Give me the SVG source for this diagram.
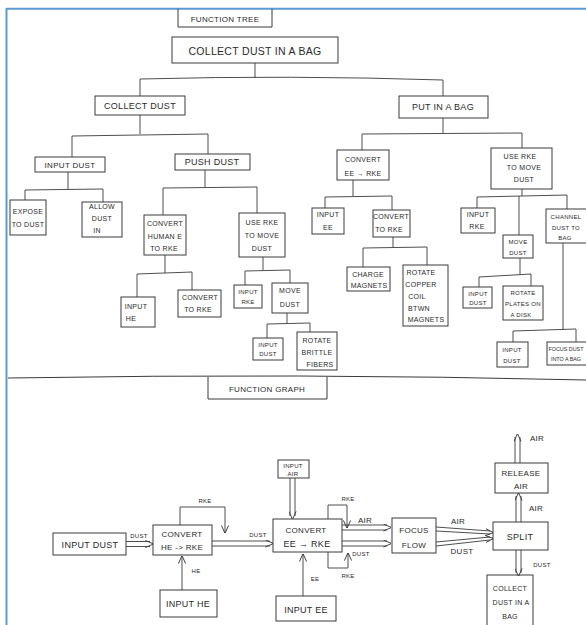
<svg xmlns="http://www.w3.org/2000/svg" width="586" height="625" viewBox="0 0 586 625">
<defs>
<style>
.b{fill:none;stroke:#3a3a3a;stroke-width:1}
.c{fill:none;stroke:#3a3a3a;stroke-width:0.9}
.g{fill:none;stroke:none}
text{font-family:"Liberation Sans","DejaVu Sans",sans-serif;fill:#2a2a2a;text-anchor:middle;font-size:7px;letter-spacing:0.3px}
.t9{font-size:9px}
.t10{font-size:10.5px}
.t8{font-size:8px}
.t6{font-size:6px}
.t5{font-size:5.4px;letter-spacing:0}
</style>
<marker id="ah" viewBox="0 0 10 10" refX="9.5" refY="5" markerWidth="8" markerHeight="8" markerUnits="userSpaceOnUse" orient="auto">
<path d="M0,0.5 L10,5 L0,9.5" fill="none" stroke="#3a3a3a" stroke-width="1.2"/>
</marker>
</defs>
<rect width="586" height="625" fill="#ffffff"/>
<path d="M6.5,8.8 H586 M6.5,8 V625" fill="none" stroke="#5b9bd5" stroke-width="2"/>

<g id="title-tree"><path class="b" d="M178,9 V27 H272 V9"/><text x="225" y="22" class="t8">FUNCTION TREE</text></g>
<g id="n-root"><rect class="b" x="172" y="37" width="166" height="26"/><text x="255" y="55" class="t10">COLLECT DUST IN A BAG</text></g>
<g id="n-collect"><rect class="b" x="95" y="96" width="90" height="19"/><text x="140" y="109" class="t9">COLLECT DUST</text></g>
<g id="n-put"><rect class="b" x="399" y="96" width="89" height="22"/><text x="443" y="110" class="t9">PUT IN A BAG</text></g>
<g id="n-inputdust"><rect class="b" x="35" y="157" width="70" height="15"/><text x="70" y="168" class="t8">INPUT DUST</text></g>
<g id="n-pushdust"><rect class="b" x="175" y="154" width="75" height="16"/><text x="212" y="165" class="t9">PUSH DUST</text></g>
<g id="n-expose"><rect class="b" x="10" y="200" width="36" height="35"/><text x="28" y="214">EXPOSE</text><text x="28" y="227">TO DUST</text></g>
<g id="n-allow"><rect class="b" x="82" y="202" width="40" height="35"/><text x="102" y="209">ALLOW</text><text x="102" y="221">DUST</text><text x="97" y="233">IN</text></g>
<g id="n-convhuman"><rect class="b" x="144" y="215" width="42" height="40"/><text x="165" y="226">CONVERT</text><text x="165" y="239">HUMAN E</text><text x="164" y="251">TO RKE</text></g>
<g id="n-userke1"><rect class="b" x="239" y="213" width="46" height="44"/><text x="262" y="225">USE RKE</text><text x="262" y="238">TO MOVE</text><text x="262" y="251">DUST</text></g>
<g id="n-inputhe"><rect class="b" x="121" y="297" width="34" height="30"/><text x="136" y="309">INPUT</text><text x="131" y="321">HE</text></g>
<g id="n-convrke1"><rect class="b" x="178" y="290" width="43" height="27"/><text x="200" y="300">CONVERT</text><text x="198" y="312">TO RKE</text></g>
<g id="n-inputrke1"><rect class="b" x="234" y="285" width="28" height="23"/><text x="248" y="294" class="t6">INPUT</text><text x="248" y="304" class="t6">RKE</text></g>
<g id="n-movedust1"><rect class="b" x="272" y="283" width="36" height="30"/><text x="290" y="293">MOVE</text><text x="290" y="307">DUST</text></g>
<g id="n-inputdust2"><rect class="b" x="253" y="338" width="30" height="22"/><text x="268" y="347" class="t6">INPUT</text><text x="268" y="356" class="t6">DUST</text></g>
<g id="n-brittle"><rect class="b" x="297" y="332" width="40" height="38"/><text x="317" y="343">ROTATE</text><text x="317" y="355">BRITTLE</text><text x="320" y="367">FIBERS</text></g>
<g id="n-conveerke"><rect class="b" x="337" y="150" width="52" height="30"/><text x="363" y="162">CONVERT</text><text x="363" y="176">EE → RKE</text></g>
<g id="n-userke2"><rect class="b" x="491" y="148" width="61" height="41"/><text x="520" y="159">USE RKE</text><text x="524" y="170">TO MOVE</text><text x="524" y="182">DUST</text></g>
<g id="n-inputee"><rect class="b" x="312" y="208" width="32" height="26"/><text x="328" y="217">INPUT</text><text x="328" y="230">EE</text></g>
<g id="n-convrke2"><rect class="b" x="373" y="210" width="37" height="27"/><text x="391" y="219">CONVERT</text><text x="389" y="232">TO RKE</text></g>
<g id="n-charge"><rect class="b" x="347" y="267" width="43" height="24"/><text x="368" y="277">CHARGE</text><text x="369" y="288">MAGNETS</text></g>
<g id="n-copper"><rect class="b" x="403" y="265" width="45" height="61"/><text x="421" y="275">ROTATE</text><text x="421" y="287">COPPER</text><text x="417" y="299">COIL</text><text x="419" y="311">BTWN</text><text x="426" y="322">MAGNETS</text></g>
<g id="n-inputrke2"><rect class="b" x="461" y="208" width="34" height="25"/><text x="478" y="217">INPUT</text><text x="477" y="229">RKE</text></g>
<g id="n-movedust2"><rect class="b" x="503" y="235" width="30" height="23"/><text x="518" y="244" class="t6">MOVE</text><text x="518" y="255" class="t6">DUST</text></g>
<g id="n-channel"><rect class="b" x="546" y="209" width="46" height="34"/><text x="566" y="219" class="t6">CHANNEL</text><text x="566" y="230" class="t6">DUST TO</text><text x="565" y="240" class="t6">BAG</text></g>
<g id="n-inputdust3"><rect class="b" x="463" y="287" width="29" height="21"/><text x="478" y="296" class="t6">INPUT</text><text x="478" y="305" class="t6">DUST</text></g>
<g id="n-plates"><rect class="b" x="503" y="286" width="40" height="34"/><text x="523" y="295" class="t6">ROTATE</text><text x="523" y="306" class="t6">PLATES ON</text><text x="521" y="317" class="t6">A DISK</text></g>
<g id="n-inputdust4"><rect class="b" x="497" y="342" width="31" height="25"/><text x="512" y="352" class="t6">INPUT</text><text x="512" y="363" class="t6">DUST</text></g>
<g id="n-focusdust"><rect class="b" x="547" y="342" width="50" height="23"/><text x="566" y="351" class="t5">FOCUS DUST</text><text x="566" y="361" class="t5">INTO A BAG</text></g>

<g id="tree-connectors">
<path class="c" d="M255,63 V78 M140,79 Q290,75 443,80 M140,79 V96 M443,80 V96"/>
<path class="c" d="M140,115 V134 M72,136 L208,134 M72,136 V157 M208,134 V154"/>
<path class="c" d="M68,172 V189 M25,190 L103,189 M25,190 V200 M103,189 V202"/>
<path class="c" d="M205,170 V187 M163,188 L257,187 M163,188 V215 M257,187 V213"/>
<path class="c" d="M165,255 V273 M137,274 L192,272 M137,274 V297 M192,272 V290"/>
<path class="c" d="M263,257 V270 M245,271 L290,270 M245,271 V285 M290,270 V283"/>
<path class="c" d="M287,313 V323 M267,324 L310,323 M267,324 V338 M310,323 V332"/>
<path class="c" d="M443,118 V133 M362,134 L522,133 M362,134 V150 M522,133 V148"/>
<path class="c" d="M353,180 V196 M325,197 L392,196 M325,197 V208 M392,196 V210"/>
<path class="c" d="M393,237 V247 M363,248 L427,247 M363,248 V267 M427,247 V265"/>
<path class="c" d="M522,189 V196 M477,197 L567,195 M477,197 V208 M519,196 V235 M567,195 V209"/>
<path class="c" d="M520,258 V275 M479,277 L531,274 M479,277 V287 M531,274 V286"/>
<path class="c" d="M563,243 V330 M513,331 L576,329 M513,331 V342 M576,329 V342"/>
</g>

<path class="b" d="M8,378 Q300,373 586,380"/>
<g id="title-graph"><path class="b" d="M208,377 V399 H327 V377"/><text x="267" y="392" class="t8">FUNCTION GRAPH</text></g>

<g id="g-inputdust"><rect class="b" x="53" y="533" width="73" height="22"/><text x="90" y="548" class="t9">INPUT DUST</text></g>
<g id="g-convhe"><rect class="b" x="153" y="525" width="59" height="30"/><text x="182" y="537" class="t8">CONVERT</text><text x="182" y="550" class="t8">HE -&gt; RKE</text></g>
<g id="g-inputhe"><rect class="b" x="160" y="590" width="57" height="27"/><text x="188" y="607" class="t9">INPUT HE</text></g>
<g id="g-inputair"><rect class="b" x="278" y="460" width="31" height="18"/><text x="293" y="468" class="t6">INPUT</text><text x="293" y="476" class="t6">AIR</text></g>
<g id="g-conveerke"><rect class="b" x="273" y="519" width="69" height="33"/><text x="306" y="533" class="t8">CONVERT</text><text x="307" y="547" class="t9">EE → RKE</text></g>
<g id="g-inputee"><rect class="b" x="276" y="596" width="60" height="25"/><text x="306" y="613" class="t9">INPUT EE</text></g>
<g id="g-focus"><rect class="b" x="392" y="518" width="44" height="35"/><text x="414" y="533" class="t8">FOCUS</text><text x="414" y="548" class="t8">FLOW</text></g>
<g id="g-split"><rect class="b" x="493" y="522" width="55" height="28"/><text x="520" y="540" class="t9">SPLIT</text></g>
<g id="g-release"><rect class="b" x="495" y="463" width="53" height="30"/><text x="521" y="476" class="t8">RELEASE</text><text x="521" y="489" class="t8">AIR</text></g>
<g id="g-collect"><rect class="b" x="487" y="575" width="46" height="55"/><text x="510" y="591">COLLECT</text><text x="511" y="605">DUST IN A</text><text x="510" y="619">BAG</text></g>

<g id="graph-connectors">
<path class="c" d="M126,541.5 H150 M126,546.5 H150"/><path class="g" d="M140,544 H153" marker-end="url(#ah)"/>
<text x="139" y="538" class="t6">DUST</text>
<path class="c" d="M180,525 V507 H225 V533" marker-end="url(#ah)"/>
<text x="205" y="503" class="t6">RKE</text>
<path class="c" d="M212,541 H270 M212,546 H270"/><path class="g" d="M260,543.5 H273" marker-end="url(#ah)"/>
<text x="258" y="537" class="t6">DUST</text>
<path class="c" d="M182,590 V556" marker-end="url(#ah)"/>
<text x="196" y="573" class="t6">HE</text>
<path class="c" d="M290,478 V516 M295,478 V516"/><path class="g" d="M292.5,505 V519" marker-end="url(#ah)"/>
<path class="c" d="M328,519 V505 H347 V528" marker-end="url(#ah)"/>
<text x="348" y="501" class="t6">RKE</text>
<path class="c" d="M342,525 H387 M342,530 H387"/><path class="g" d="M375,527.5 H391" marker-end="url(#ah)"/>
<text x="365" y="523" class="t8">AIR</text>
<path class="c" d="M342,541 H387 M342,546 H387"/><path class="g" d="M375,543.5 H391" marker-end="url(#ah)"/>
<path class="c" d="M328,552 V568 H348 V553" marker-end="url(#ah)"/>
<text x="361" y="556" class="t6">DUST</text>
<text x="348" y="578" class="t6">RKE</text>
<path class="c" d="M303,596 V554" marker-end="url(#ah)"/>
<text x="315" y="581" class="t6">EE</text>
<path class="c" d="M436,527 L490,531 M436,531 L490,534"/><path class="g" d="M480,531.8 L493,532.6" marker-end="url(#ah)"/>
<path class="c" d="M436,542 L490,537 M436,546 L490,540"/><path class="g" d="M480,539.4 L493,538.6" marker-end="url(#ah)"/>
<text x="458" y="524" class="t8">AIR</text>
<text x="462" y="554" class="t8">DUST</text>
<path class="c" d="M516,522 V496 M521,522 V496"/><path class="g" d="M518.5,505 V493" marker-end="url(#ah)"/>
<text x="536" y="511" class="t8">AIR</text>
<path class="c" d="M515,463 V437 M520,463 V437"/><path class="g" d="M517.5,447 V434" marker-end="url(#ah)"/>
<text x="537" y="441" class="t8">AIR</text>
<path class="c" d="M516,550 V573 M521,550 V573"/><path class="g" d="M518.5,565 V576" marker-end="url(#ah)"/>
<text x="542" y="567" class="t6">DUST</text>
</g>
</svg>
